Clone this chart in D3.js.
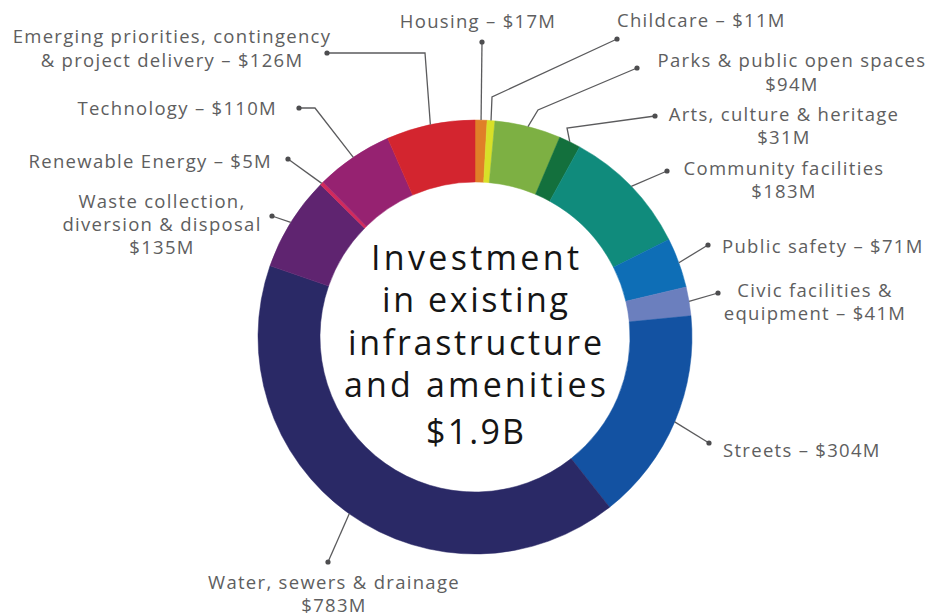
<!DOCTYPE html>
<html>
<head>
<meta charset="utf-8">
<script src="https://cdn.jsdelivr.net/npm/d3@7"></script>
<style>
  html, body { margin: 0; padding: 0; background: #ffffff; }
  svg { display: block; }
</style>
</head>
<body>
<svg id="chart" width="930" height="616"></svg>
<script>
// ---- data ----
const categories = [
  "Housing", "Childcare", "Parks & public open spaces", "Arts, culture & heritage",
  "Community facilities", "Public safety", "Civic facilities & equipment", "Streets",
  "Water, sewers & drainage", "Waste collection, diversion & disposal", "Renewable Energy",
  "Technology", "Emerging priorities, contingency & project delivery"
];
const values = [17, 11, 94, 31, 183, 71, 41, 304, 783, 135, 5, 110, 126];
const colors = [
  "#e07f28", "#d8e028", "#7db043", "#13703d", "#108b7c", "#0e6eb6", "#6b7fbe",
  "#1352a2", "#2a2966", "#5f2470", "#d22a5c", "#962271", "#d3252f"
];
const labelLines = [
  ["Housing – $17M"],
  ["Childcare – $11M"],
  ["Parks & public open spaces", "$94M"],
  ["Arts, culture & heritage", "$31M"],
  ["Community facilities", "$183M"],
  ["Public safety – $71M"],
  ["Civic facilities &", "equipment – $41M"],
  ["Streets – $304M"],
  ["Water, sewers & drainage", "$783M"],
  ["Waste collection,", "diversion & disposal", "$135M"],
  ["Renewable Energy – $5M"],
  ["Technology – $110M"],
  ["Emerging priorities, contingency", "& project delivery – $126M"]
];
const centerLines = ["Investment", "in existing", "infrastructure", "and amenities", "$1.9B"];

// ---- layout (positions kept separate from data) ----
const cx = 475, cy = 337, outerR = 217, innerR = 155;
const labelLayout = [
  { x: 478, y: [28], anchor: "middle", dot: [482, 42], elbow: null },
  { x: 617, y: [27], anchor: "start", dot: [617, 39], elbow: [492, 97] },
  { x: 792, y: [67, 91], anchor: "middle", dot: [637, 68], elbow: [538, 110] },
  { x: 784, y: [121, 144], anchor: "middle", dot: [655, 116], elbow: [567, 128] },
  { x: 784, y: [175, 198], anchor: "middle", dot: [667, 171], elbow: null },
  { x: 722, y: [253], anchor: "start", dot: [708, 245], elbow: null },
  { x: 815, y: [297, 320], anchor: "middle", dot: [718, 293], elbow: null },
  { x: 723, y: [457], anchor: "start", dot: [709, 443], elbow: null },
  { x: 334, y: [589, 612], anchor: "middle", dot: [328, 562], elbow: null },
  { x: 162, y: [208, 231, 254], anchor: "middle", dot: [272, 216], elbow: null },
  { x: 272, y: [168], anchor: "end", dot: [288, 159], elbow: null },
  { x: 277, y: [115], anchor: "end", dot: [299, 108], elbow: [315, 108] },
  { x: 172, y: [43, 67], anchor: "middle", dot: [327, 53], elbow: [425, 53] }
];
const centerY = [270, 312, 355, 397, 444];
const centerWidths = [208, 186, 254, 262, 98];

// ---- drawing ----
const svg = d3.select("#chart");
const g = svg.append("g").attr("transform", `translate(${cx},${cy})`);

const pie = d3.pie().sort(null).value(d => d.value).startAngle(0).endAngle(2 * Math.PI);
const data = categories.map((c, i) => ({ name: c, value: values[i], color: colors[i], lines: labelLines[i], lay: labelLayout[i] }));
const arcs = pie(data);
const arc = d3.arc().innerRadius(innerR).outerRadius(outerR);

g.selectAll("path.slice")
  .data(arcs)
  .join("path")
  .attr("class", "slice")
  .attr("d", arc)
  .attr("fill", d => d.data.color)
  .attr("stroke", d => d.data.color)
  .attr("stroke-width", 0.5);

// leader lines
const edge = d => {
  const a = (d.startAngle + d.endAngle) / 2;
  return [cx + outerR * Math.sin(a), cy - outerR * Math.cos(a)];
};
const lineGen = d3.line();
svg.selectAll("path.leader")
  .data(arcs)
  .join("path")
  .attr("class", "leader")
  .attr("d", d => {
    const L = d.data.lay;
    const pts = [edge(d)];
    if (L.elbow) pts.push(L.elbow);
    pts.push(L.dot);
    return lineGen(pts);
  })
  .attr("fill", "none")
  .attr("stroke", "#5b5b5d")
  .attr("stroke-width", 1.3);

svg.selectAll("circle.dot")
  .data(arcs)
  .join("circle")
  .attr("class", "dot")
  .attr("cx", d => d.data.lay.dot[0])
  .attr("cy", d => d.data.lay.dot[1])
  .attr("r", 2.6)
  .attr("fill", "#4d4d4f");

// labels
const labels = svg.selectAll("text.lbl")
  .data(arcs)
  .join("text")
  .attr("class", "lbl")
  .attr("text-anchor", d => d.data.lay.anchor)
  .attr("font-family", "'Open Sans', Lato, sans-serif")
  .attr("font-size", 18.5)
  .attr("letter-spacing", 1.3)
  .attr("fill", "#5e5e60");
labels.each(function(d) {
  const t = d3.select(this);
  d.data.lines.forEach((ln, j) => {
    t.append("tspan").attr("x", d.data.lay.x).attr("y", d.data.lay.y[j]).text(ln);
  });
});

// center text
svg.selectAll("text.center")
  .data(centerLines)
  .join("text")
  .attr("class", "center")
  .attr("x", cx)
  .attr("y", (d, i) => centerY[i])
  .attr("text-anchor", "middle")
  .attr("font-family", "'Open Sans', sans-serif")
  .attr("font-weight", 400)
  .attr("font-size", 34)
  .attr("textLength", (d, i) => centerWidths[i])
  .attr("lengthAdjust", "spacing")
  .attr("fill", "#151515")
  .text(d => d);
</script>
</body>
</html>
